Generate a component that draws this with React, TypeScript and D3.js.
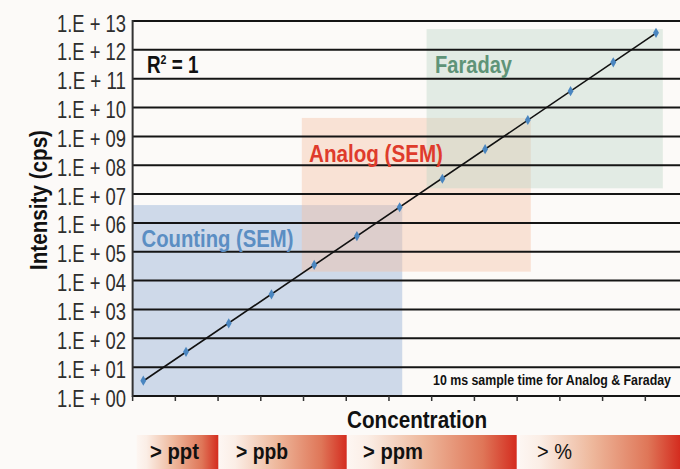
import React from 'react';
import * as d3 from 'd3';

// concentration steps along the x axis (one decade apart)
const steps = [0, 1, 2, 3, 4, 5, 6, 7, 8, 9, 10, 11, 12];
// measured intensity (cps) for each step
const intensity = [3.4, 34, 330, 3350, 3.5e4, 3.5e5, 3.5e6, 3.4e7, 3.6e8, 3.7e9, 3.7e10, 3.7e11, 3.9e12];
// y tick exponents and labels
const exponents = [0, 1, 2, 3, 4, 5, 6, 7, 8, 9, 10, 11, 12, 13];
const tickLabels = exponents.map((e) => `1.E + ${String(e).padStart(2, '0')}`);
// concentration ranges shown under the axis
const rangeLabels = ['> ppt', '> ppb', '> ppm', '> %'];
// detector regions
const regionNames = ['Counting (SEM)', 'Analog (SEM)', 'Faraday'];

const W = 680;
const H = 469;
const FONT = "'Liberation Sans', Arial, sans-serif";

const App = () => {
  const x = d3.scaleLinear().domain([0, 12]).range([143.3, 656]);
  const y = d3.scaleLog().domain([1, 1e13]).range([396, 21]);
  const axisX = x(-0.25);

  // least squares fit in log space
  const logs = intensity.map((v) => Math.log10(v));
  const mx = d3.mean(steps) as number;
  const my = d3.mean(logs) as number;
  const slope =
    (d3.sum(steps, (s, i) => (s - mx) * (logs[i] - my)) as number) /
    (d3.sum(steps, (s) => (s - mx) ** 2) as number);
  const icpt = my - slope * mx;
  const fitLine = d3
    .line<number>()
    .x((s) => x(s))
    .y((s) => y(10 ** (icpt + slope * s)));

  const diamond = d3.symbol(d3.symbolDiamond, 30)() as string;

  const regions = [
    { name: regionNames[0], x0: -0.25, x1: 6.06, y0: 1, y1: 10 ** 6.62, fill: 'rgba(150,178,215,0.45)', color: '#5b8ec3', lx: 141.5, ly: 246.5, len: 152 },
    { name: regionNames[1], x0: 3.71, x1: 9.07, y0: 10 ** 4.31, y1: 10 ** 9.64, fill: 'rgba(245,190,160,0.4)', color: '#df3b2c', lx: 309, ly: 161.5, len: 134 },
    { name: regionNames[2], x0: 6.63, x1: 12.16, y0: 10 ** 7.2, y1: 10 ** 12.72, fill: 'rgba(190,215,200,0.42)', color: '#5f9478', lx: 435, ly: 72.5, len: 77 },
  ];

  const bars = [
    { x0: 136.7, x1: 218.3, tx: 150, len: 49 },
    { x0: 220, x1: 346.7, tx: 236, len: 52 },
    { x0: 347.3, x1: 516.7, tx: 363, len: 60 },
    { x0: 520, x1: 680, tx: 537, len: 35 },
  ];

  const xTicks = d3.range(-0.25, 12.5, 1);

  return (
    <div style={{ position: 'absolute', left: 0, top: 0 }}>
      <svg width={W} height={H} style={{ display: 'block', fontFamily: FONT }}>
        <defs>
          <linearGradient id="rangeGrad" x1="0" x2="1" y1="0" y2="0">
            <stop offset="0%" stopColor="#fdf6f2" />
            <stop offset="12%" stopColor="#fbeee6" />
            <stop offset="45%" stopColor="#eeb89c" />
            <stop offset="80%" stopColor="#df7658" />
            <stop offset="100%" stopColor="#d42c1f" />
          </linearGradient>
        </defs>
        <rect width={W} height={H} fill="#fcfaf8" />

        {regions.map((r) => (
          <rect
            key={r.name}
            x={x(r.x0)}
            y={y(r.y1)}
            width={x(r.x1) - x(r.x0)}
            height={y(r.y0) - y(r.y1)}
            fill={r.fill}
          />
        ))}

        {/* gridlines */}
        {exponents.map((e) => (
          <line key={e} x1={axisX} x2={W} y1={y(10 ** e)} y2={y(10 ** e)} stroke="#151515" strokeWidth={2} />
        ))}
        <line x1={axisX} x2={axisX} y1={y(1e13) - 1} y2={y(1) + 1} stroke="#333" strokeWidth={2} />
        {xTicks.map((t) => (
          <line key={t} x1={x(t)} x2={x(t)} y1={y(1)} y2={y(1) + 5} stroke="#333" strokeWidth={1.5} />
        ))}

        {exponents.map((e, i) => (
          <text key={e} x={57} y={y(10 ** e) + 10.5} fontSize={23} fill="#2e2e2e"
            textLength={69} lengthAdjust="spacingAndGlyphs">
            {tickLabels[i]}
          </text>
        ))}

        {regions.map((r) => (
          <text key={r.name} x={r.lx} y={r.ly} fontSize={24} fontWeight="bold" fill={r.color}
            textLength={r.len} lengthAdjust="spacingAndGlyphs">
            {r.name}
          </text>
        ))}

        <g transform="translate(147,73) scale(0.82,1)">
          <text x={0} y={0} fontSize={23} fontWeight="bold" fill="#111">
            R<tspan fontSize={13} dy={-9}>2</tspan>
            <tspan dy={9}> = 1</tspan>
          </text>
        </g>

        <path d={fitLine([0, 12]) as string} fill="none" stroke="#111" strokeWidth={1.6} />
        {steps.map((s, i) => (
          <path key={s} d={diamond} transform={`translate(${x(s)},${y(intensity[i])})`} fill="#4a86c0" />
        ))}

        <text x={433} y={385} fontSize={14} fontWeight="bold" fill="#111"
          textLength={238} lengthAdjust="spacingAndGlyphs">
          10 ms sample time for Analog &amp; Faraday
        </text>

        <text x={0} y={0} transform="translate(47,200) rotate(-90)" textAnchor="middle" fontSize={23} fontWeight="bold" fill="#111"
          textLength={140} lengthAdjust="spacingAndGlyphs">
          Intensity (cps)
        </text>
        <text x={347} y={428} fontSize={24} fontWeight="bold" fill="#111"
          textLength={140} lengthAdjust="spacingAndGlyphs">
          Concentration
        </text>

        {bars.map((b, i) => (
          <g key={rangeLabels[i]}>
            <rect x={b.x0} y={435} width={b.x1 - b.x0} height={H - 435} fill="url(#rangeGrad)" />
            <text x={b.tx} y={458.5} fontSize={22} fontWeight={i === 3 ? 'normal' : 'bold'} fill="#111"
              textLength={b.len} lengthAdjust="spacingAndGlyphs">
              {rangeLabels[i]}
            </text>
          </g>
        ))}
      </svg>
    </div>
  );
};

export default App;
